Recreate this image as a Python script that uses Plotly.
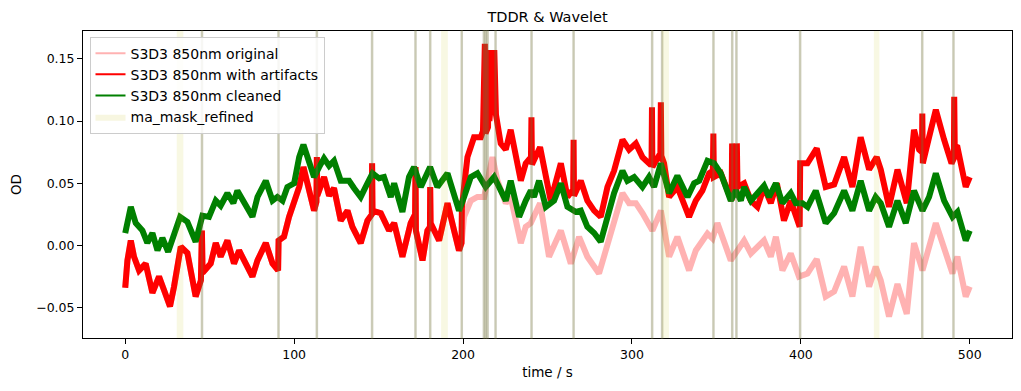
import plotly.graph_objects as go

# ---------------- data ----------------
green_t = [0, 3.3, 6.2, 10.2, 13.1, 16.1, 19.1, 22, 25.4, 28.5, 32.5, 36.8, 41.7, 45.7, 49.6,
           53.6, 56.5, 60.5, 64, 66.4, 70.3, 75.3, 78.3, 83.2, 87.2, 90.1, 93.1, 96, 100, 103,
           105.5, 108.8, 111.8, 114.8, 117.7, 120.7, 123.6, 127.6, 132.5, 135.5, 139.4, 143.4,
           146.4, 150.3, 153.2, 157.2, 159.2, 164.1, 168, 171, 175, 180.5, 184.8, 190.8, 193.7,
           197.6, 200.6, 204.6, 208.5, 213.4, 218.4, 222.3, 225.3, 228.2, 233.2, 237.1, 240.1,
           242, 245, 249, 253.9, 257.9, 261.8, 266.7, 269.7, 273.6, 277.6, 281.5, 285.5, 289.4,
           294.4, 297.3, 301.3, 306.2, 310.1, 313.1, 317.1, 320, 322, 326.9, 329.9, 332.9, 336.8,
           339.8, 344.7, 348.6, 352.6, 358.5, 361.5, 364.5, 366.4, 370.4, 374.3, 378.2, 381.2,
           385.2, 389.1, 394, 397, 400.9, 404, 408.8, 414.7, 419.7, 425.6, 430.5, 435.4, 440.4,
           444.3, 447.3, 452.2, 457.2, 462.1, 467, 472, 475.9, 479.9, 484.8, 489.8, 492.7, 497.6,
           500]
green_od = [0.010, 0.031, 0.018, 0.012, 0.002, 0.010, -0.004, 0.006, -0.005, 0.008, 0.023, 0.019,
            0.003, 0.024, 0.023, 0.036, 0.032, 0.042, 0.034, 0.044, 0.034, 0.023, 0.039, 0.052,
            0.036, 0.039, 0.036, 0.047, 0.050, 0.071, 0.081, 0.066, 0.055, 0.063, 0.070, 0.064,
            0.068, 0.052, 0.052, 0.046, 0.039, 0.050, 0.058, 0.054, 0.055, 0.039, 0.050, 0.027,
            0.055, 0.063, 0.047, 0.063, 0.047, 0.058, 0.044, 0.028, 0.039, 0.055, 0.058, 0.047,
            0.055, 0.044, 0.036, 0.052, 0.023, 0.036, 0.044, 0.039, 0.052, 0.031, 0.036, 0.050,
            0.031, 0.027, 0.028, 0.015, 0.010, 0.003, 0.023, 0.042, 0.060, 0.052, 0.055, 0.047,
            0.055, 0.047, 0.066, 0.052, 0.042, 0.056, 0.047, 0.039, 0.050, 0.052, 0.068, 0.066,
            0.058, 0.036, 0.044, 0.036, 0.047, 0.036, 0.042, 0.048, 0.039, 0.050, 0.034, 0.042,
            0.034, 0.034, 0.031, 0.044, 0.018, 0.026, 0.044, 0.028, 0.052, 0.028, 0.039, 0.034,
            0.015, 0.036, 0.018, 0.044, 0.028, 0.039, 0.058, 0.036, 0.023, 0.027, 0.004, 0.012]

red_t = [0, 1.3, 3.3, 5.2, 8.2, 12.1, 16.1, 20, 23, 26.5, 28.9, 32.9, 36.8, 41.7, 44.8, 45.4,
         45.8, 47, 50.6, 53.6, 56.5, 60.5, 64.4, 67.4, 71.3, 75.3, 78.3, 83.2, 87.2, 90.5, 90.8,
         94, 97, 100, 103, 105.5, 108.8, 111.8, 113.2, 113.45, 113.7, 117.7, 120.7, 123.6, 127.6,
         131.6, 134.5, 139.4, 143.4, 146.0, 146.15, 146.4, 151.3, 156.2, 159.2, 164.1, 169,
         171.6, 171.85, 172.1, 176, 178.9, 180.4, 180.55, 180.8, 185.8, 190.8, 194.7, 197.6,
         199.1, 199.3, 200.6, 202.6, 206.5, 210.5, 211.8, 212.9, 213.3, 214.8, 215.2, 215.6,
         217.0, 218.1, 218.5, 218.9, 219.5, 222.3, 225.3, 228.2, 231.2, 234.2, 237.1, 240.2,
         240.5, 240.8, 245.6, 249, 251.9, 257.9, 261.8, 265.2, 265.45, 265.7, 269.7, 273.6,
         277.6, 281.5, 285.5, 289.4, 294.4, 298.3, 302.3, 306.2, 310.1, 311.6, 311.85, 312.1,
         315.5, 316.8, 317.1, 317.4, 319, 322, 326.9, 330.9, 333.8, 337.8, 341.7, 345.7, 347.9,
         348.2, 348.5, 352.6, 358.5, 359.0, 359.3, 359.8, 360.3, 360.8, 361.3, 361.8, 362.1,
         362.5, 366.4, 370.4, 374.3, 378.2, 382.2, 385.8, 390, 394, 399.3, 399.6, 403.9, 409.4,
         414.7, 419.7, 425.6, 430.5, 435.4, 440.4, 444.9, 447.3, 452.2, 457.2, 462.7, 465.1,
         467, 470, 471.7, 471.9, 472.2, 475.9, 479.9, 484.8, 489.2, 490.6, 490.8, 491.1, 492.7,
         497.6, 500]
red_od = [-0.034, -0.012, 0.004, -0.009, -0.020, -0.0145, -0.038, -0.025, -0.036, -0.049, -0.033,
          -0.001, -0.006, -0.041, -0.028, 0.012, -0.022, -0.020, -0.0145, 0.002, -0.009, 0.004,
          -0.0145, -0.004, -0.0145, -0.025, -0.012, 0.002, -0.0145, -0.020, 0.004, 0.007, 0.023,
          0.034, 0.047, 0.063, 0.044, 0.028, 0.035, 0.071, 0.040, 0.055, 0.040, 0.046, 0.020,
          0.028, 0.015, 0.002, 0.020, 0.025, 0.066, 0.028, 0.026, 0.012, 0.018, -0.009, 0.018,
          0.025, 0.063, 0.012, -0.012, 0.012, 0.015, 0.047, 0.018, 0.004, 0.034, 0.012, -0.004,
          0.002, 0.030, 0.047, 0.071, 0.087, 0.087, 0.092, 0.162, 0.090, 0.095, 0.157, 0.100,
          0.122, 0.115, 0.157, 0.110, 0.105, 0.082, 0.077, 0.093, 0.071, 0.052, 0.066, 0.071,
          0.103, 0.065, 0.079, 0.058, 0.036, 0.066, 0.039, 0.045, 0.085, 0.040, 0.052, 0.036,
          0.028, 0.023, 0.047, 0.060, 0.085, 0.077, 0.082, 0.071, 0.066, 0.068, 0.111, 0.063,
          0.071, 0.070, 0.115, 0.072, 0.066, 0.039, 0.047, 0.031, 0.023, 0.036, 0.044, 0.058,
          0.060, 0.090, 0.055, 0.058, 0.036, 0.036, 0.082, 0.040, 0.080, 0.040, 0.080, 0.040,
          0.082, 0.047, 0.050, 0.036, 0.031, 0.047, 0.034, 0.050, 0.020, 0.036, 0.015, 0.066,
          0.066, 0.078, 0.047, 0.049, 0.071, 0.047, 0.087, 0.061, 0.071, 0.061, 0.031, 0.061,
          0.034, 0.071, 0.093, 0.077, 0.075, 0.106, 0.066, 0.087, 0.109, 0.085, 0.066, 0.070,
          0.1195, 0.080, 0.079, 0.047, 0.055]

# original signal where it separates from the artifact signal (before ~199 s it equals red)
orig_tail_t = [199.3, 200.6, 204.6, 208.5, 212.5, 217.4, 220.4, 225.3, 228.2, 234.2, 237.1, 240.1,
               245.6, 250.9, 257.9, 263.8, 268.7, 273.6, 280.5, 285.5, 289.4, 294.4, 298.3,
               302.3, 306.2, 312.1, 317.1, 322, 326.9, 333.8, 337.8, 344.7, 347.7, 350.6, 358.5,
               366.4, 370.4, 378.2, 382.2, 385.2, 389.1, 394, 398.9, 403.9, 409.4, 414.7, 419.7,
               425.6, 430.5, 435.4, 440.4, 444.3, 447.3, 452.2, 457.2, 462.7, 467, 472, 479.9,
               484.8, 489.8, 492.7, 497.6, 500]
orig_tail_od = [0.004, 0.023, 0.036, 0.039, 0.039, 0.071, 0.052, 0.034, 0.039, 0.002, 0.015, 0.018,
                0.034, -0.009, 0.012, -0.0145, 0.007, -0.009, -0.0225, 0.002, 0.018, 0.042, 0.034,
                0.034, 0.026, 0.012, 0.028, -0.009, 0.007, -0.020, -0.004, 0.0096, 0.0056, 0.018,
                -0.012, 0.004, -0.0064, 0.004, -0.009, 0.007, -0.020, -0.0064, -0.025, -0.0225,
                -0.011, -0.041, -0.037, -0.017, -0.041, -0.001, -0.033, -0.017, -0.028, -0.057,
                -0.031, -0.055, 0.002, -0.020, 0.018, -0.004, -0.0225, -0.009, -0.041, -0.033]

# motion-artifact mask intervals (s)
span_start = [30.5, 45.3, 90.6, 113.3, 146.0, 171.7, 180.4, 187.0, 199.1, 212.2, 213.3, 214.4,
              219.1, 240.4, 265.3, 311.8, 317.7, 318.0, 348.1, 359.2, 361.7, 399.4, 443.2, 471.7,
              490.2]
span_end = [34.4, 45.6, 90.9, 113.6, 146.3, 172.0, 180.7, 191.0, 199.4, 212.5, 213.6, 214.7,
            219.4, 240.7, 265.6, 312.1, 318.0, 321.9, 348.4, 359.5, 362.0, 399.7, 446.5, 472.0,
            490.5]

series_names = ["S3D3 850nm original", "S3D3 850nm with artifacts", "S3D3 850nm cleaned"]
mask_name = "ma_mask_refined"
x_ticks = [0, 100, 200, 300, 400, 500]
y_ticks = [-0.05, 0.0, 0.05, 0.10, 0.15]
y_tick_labels = ["\u22120.05", "0.00", "0.05", "0.10", "0.15"]

# ---------------- figure ----------------
split = next(i for i, t in enumerate(red_t) if t > 199.2)
orig_t = red_t[:split] + orig_tail_t
orig_od = red_od[:split] + orig_tail_od

FONT = "DejaVu Sans"
colors = ["rgba(255,0,0,0.3)", "#ff0000", "#008000"]
xs = [orig_t, red_t, green_t]
ys = [orig_od, red_od, green_od]

fig = go.Figure()
for x, y, c, n in zip(xs, ys, colors, series_names):
    fig.add_trace(go.Scatter(x=x, y=y, mode="lines", name=n, showlegend=False,
                             line=dict(color=c, width=6)))
# legend entries (thin samples like the reference legend)
for c, n in zip(colors, series_names):
    fig.add_trace(go.Scatter(x=[None], y=[None], mode="lines", name=n,
                             line=dict(color=c, width=2)))
fig.add_trace(go.Scatter(x=[None, None, None], y=[None, None, None], mode="lines", fill="toself",
                         name=mask_name, fillcolor="rgb(247,246,224)",
                         line=dict(width=0, color="rgb(247,246,224)")))

for s, e in zip(span_start, span_end):
    narrow = (e - s) < 1.0
    fig.add_shape(type="rect", xref="x", yref="paper", x0=s, x1=e, y0=0, y1=1, layer="above",
                  fillcolor="rgba(191,191,0,0.11)",
                  line=dict(color="rgba(110,110,60,0.35)" if narrow else "rgba(0,0,0,0)",
                            width=2 if narrow else 0))

# page body has an 8px margin: figure is sized/offset so the plot frame lands where it should
W, H = 1005, 375
fig.update_layout(
    width=W, height=H,
    margin=dict(l=75, r=1, t=23, b=45, autoexpand=False),
    paper_bgcolor="white", plot_bgcolor="white",
    font=dict(family=FONT, size=12.5, color="black"),
    title=dict(text="TDDR & Wavelet", x=0.5, xref="paper", xanchor="center",
               y=1 - 9 / H, yref="container", yanchor="middle",
               font=dict(family=FONT, size=14.5, color="black")),
    showlegend=True,
    legend=dict(x=0.007, y=0.982, xanchor="left", yanchor="top",
                bgcolor="rgba(255,255,255,0.85)", bordercolor="#cccccc", borderwidth=1,
                font=dict(family=FONT, size=14, color="black"), tracegroupgap=0,
                itemwidth=30),
)
fig.update_xaxes(range=[-25, 525], tickvals=x_ticks, ticks="outside", ticklen=5, tickwidth=1,
                 tickcolor="black", showline=True, linecolor="black", linewidth=1, mirror=True,
                 showgrid=False, zeroline=False, automargin=False,
                 tickfont=dict(family=FONT, size=12.5),
                 title=dict(text="time / s", standoff=6, font=dict(family=FONT, size=13.5)))
fig.update_yaxes(range=[-0.0743, 0.1723], tickvals=y_ticks, ticktext=y_tick_labels,
                 ticks="outside", ticklen=5, tickwidth=1, tickcolor="black", showline=True,
                 linecolor="black", linewidth=1, mirror=True, showgrid=False, zeroline=False,
                 automargin=False, tickfont=dict(family=FONT, size=12.5),
                 title=dict(text="OD", standoff=15, font=dict(family=FONT, size=13.5)))

fig.write_html("out.html")
